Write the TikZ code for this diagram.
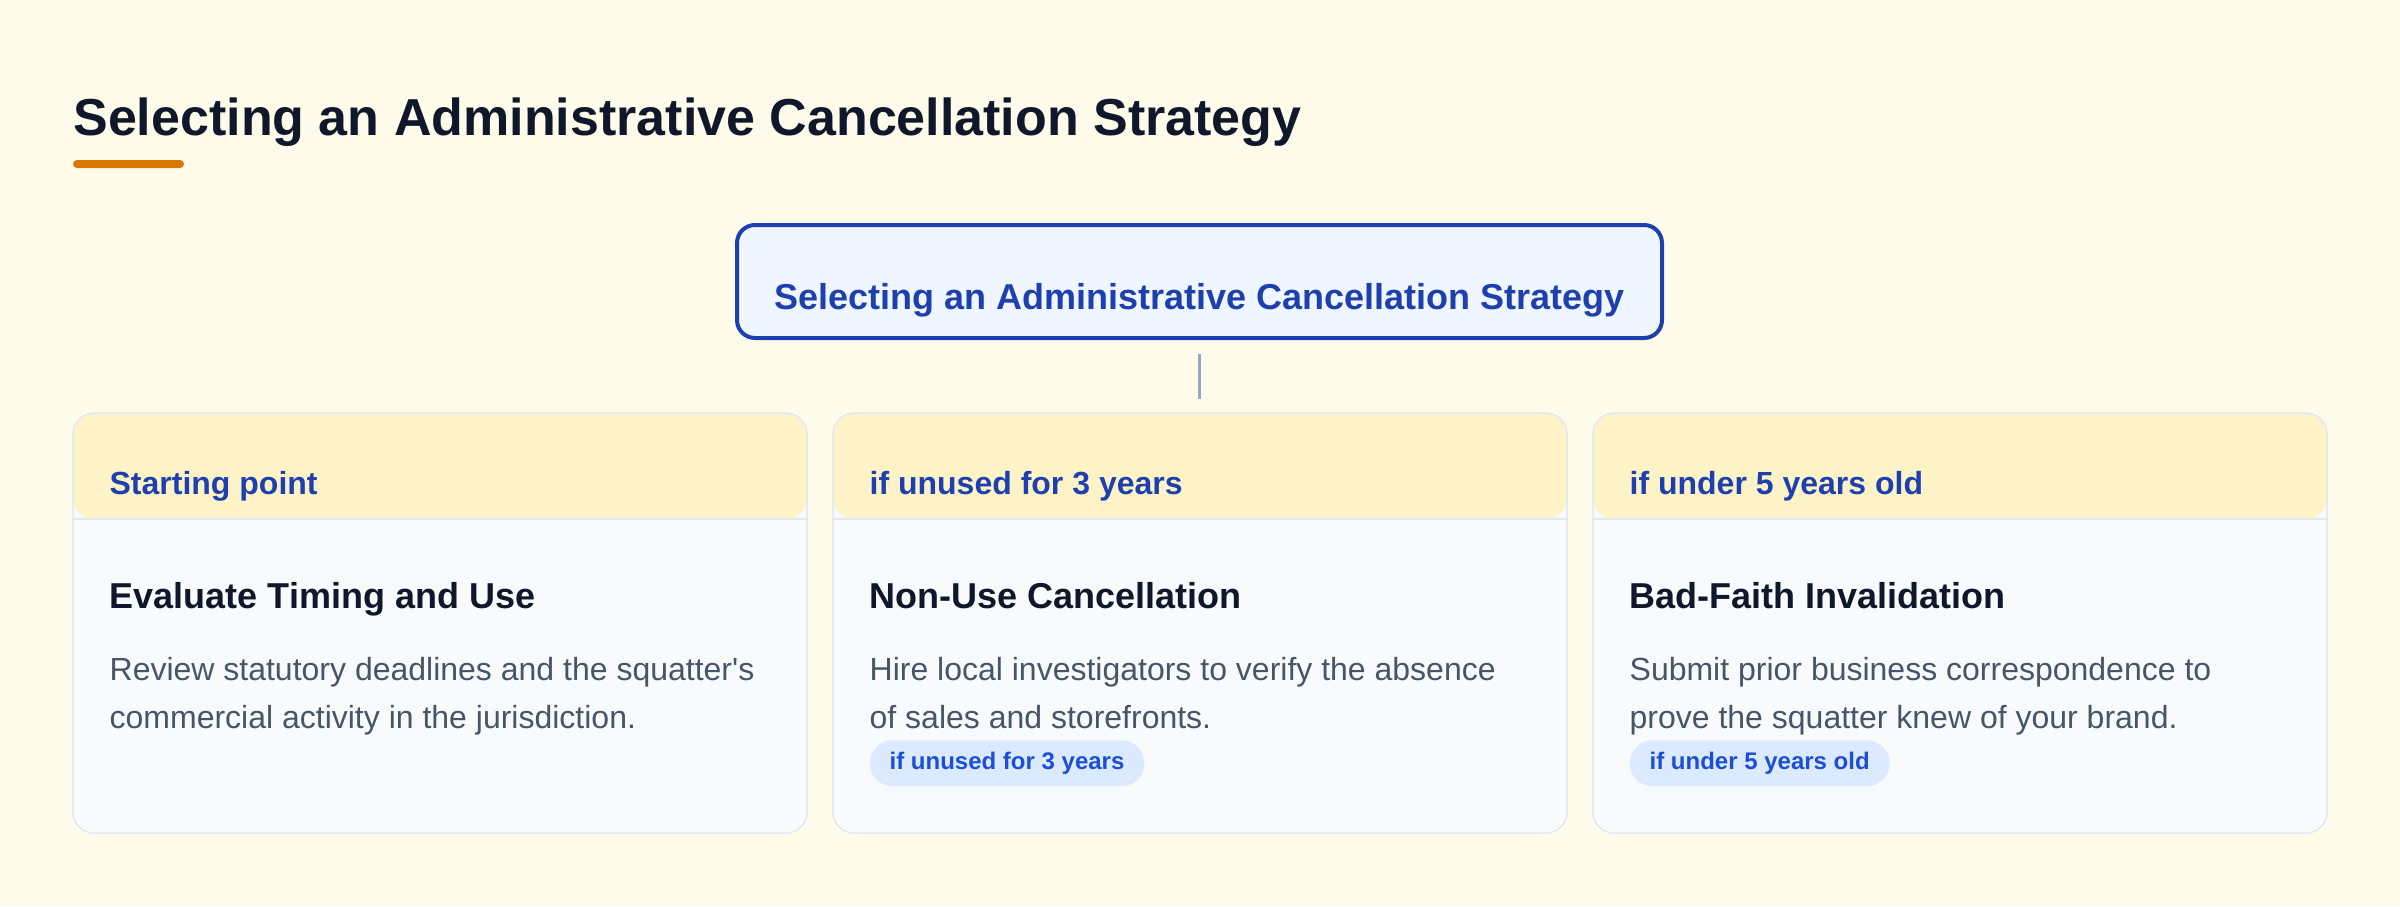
\documentclass[tikz,border=0pt]{standalone}
\usepackage{fontspec}
\setmainfont{Liberation Sans}[Ligatures=TeXOff]
\usetikzlibrary{positioning}
\definecolor{pagebg}{HTML}{FFFBEB}
\definecolor{ink}{HTML}{0F172A}
\definecolor{accent}{HTML}{D97706}
\definecolor{rootfill}{HTML}{EFF6FF}
\definecolor{deepblue}{HTML}{1E40AF}
\definecolor{linkgray}{HTML}{98A6CC}
\definecolor{cardline}{HTML}{E2E8F0}
\definecolor{cardbody}{HTML}{F8FAFC}
\definecolor{cardhead}{HTML}{FEF3C7}
\definecolor{slate}{HTML}{475569}
\definecolor{pillfill}{HTML}{DBEAFE}
\definecolor{pilltext}{HTML}{1D4ED8}
\begin{document}
\begin{tikzpicture}[x=0.5pt, y=-0.5pt,
    rootbox/.style={rectangle, rounded corners=9pt, draw=deepblue, line width=2pt, fill=rootfill,
      minimum width=462.5pt, text height=42pt, text depth=14.5pt, inner ysep=0pt, anchor=base,
      text=deepblue, font=\fontsize{18pt}{22pt}\selectfont\bfseries},
    card/.style={rectangle, rounded corners=10.5pt, draw=cardline, line width=0.75pt, fill=cardbody,
      minimum width=367pt, minimum height=210pt,
      path picture={\fill[cardhead] (path picture bounding box.north west) rectangle ([yshift=-53pt]path picture bounding box.north east);
        \draw[cardline, line width=0.75pt] ([yshift=-53pt]path picture bounding box.north west) -- ([yshift=-53pt]path picture bounding box.north east);}},
    headtext/.style={anchor=base west, inner sep=0pt, text=deepblue, font=\fontsize{16pt}{19pt}\selectfont\bfseries},
    cardtitle/.style={anchor=base west, inner sep=0pt, text=ink, font=\fontsize{18pt}{22pt}\selectfont\bfseries},
    cardtext/.style={anchor=base west, inner sep=0pt, align=left, text=slate, font=\fontsize{16pt}{24pt}\selectfont},
    pill/.style={anchor=west, rectangle, rounded corners=11.5pt, fill=pillfill, minimum height=23pt,
      inner xsep=10pt, inner ysep=0pt, text=pilltext, font=\fontsize{12pt}{14pt}\selectfont\bfseries},
    link/.style={draw=linkgray, line width=1.5pt}]
  \fill[pagebg] (0,0) rectangle (2400,906);
  \useasboundingbox (0,0) rectangle (2400,906);

  \node[anchor=base west, inner sep=0pt, text=ink, font=\fontsize{26pt}{31pt}\selectfont\bfseries] (title) at (73,135) {Selecting an Administrative Cancellation Strategy};
  \fill[accent, rounded corners=2pt] (73,160) rectangle (184,168);

  \node[rootbox] (root) at (1199.5,309) {Selecting an Administrative Cancellation Strategy};

  \node[card] (card1) at (440,623) {};
  \node[card, right=12.25pt of card1] (card2) {};
  \node[card, right=12.25pt of card2] (card3) {};
  \draw[link] ([yshift=-7pt]root.south) -- ([yshift=6.5pt]root.south |- card2.north);

  \node[headtext] (head1) at ([shift={(18.5pt,-41pt)}]card1.north west) {Starting point};
  \node[cardtitle] (name1) at ([shift={(18.5pt,-98pt)}]card1.north west) {Evaluate Timing and Use};
  \node[cardtext] (text1) at ([shift={(18.5pt,-158pt)}]card1.north west) {Review statutory deadlines and the squatter's\\commercial activity in the jurisdiction.};

  \node[headtext] (head2) at ([shift={(18.5pt,-41pt)}]card2.north west) {if unused for 3 years};
  \node[cardtitle] (name2) at ([shift={(18.5pt,-98pt)}]card2.north west) {Non-Use Cancellation};
  \node[cardtext] (text2) at ([shift={(18.5pt,-158pt)}]card2.north west) {Hire local investigators to verify the absence\\of sales and storefronts.};
  \node[pill] (tag2) at ([shift={(18.5pt,-175.5pt)}]card2.north west) {if unused for 3 years};

  \node[headtext] (head3) at ([shift={(18.5pt,-41pt)}]card3.north west) {if under 5 years old};
  \node[cardtitle] (name3) at ([shift={(18.5pt,-98pt)}]card3.north west) {Bad-Faith Invalidation};
  \node[cardtext] (text3) at ([shift={(18.5pt,-158pt)}]card3.north west) {Submit prior business correspondence to\\prove the squatter knew of your brand.};
  \node[pill] (tag3) at ([shift={(18.5pt,-175.5pt)}]card3.north west) {if under 5 years old};
\end{tikzpicture}
\end{document}
